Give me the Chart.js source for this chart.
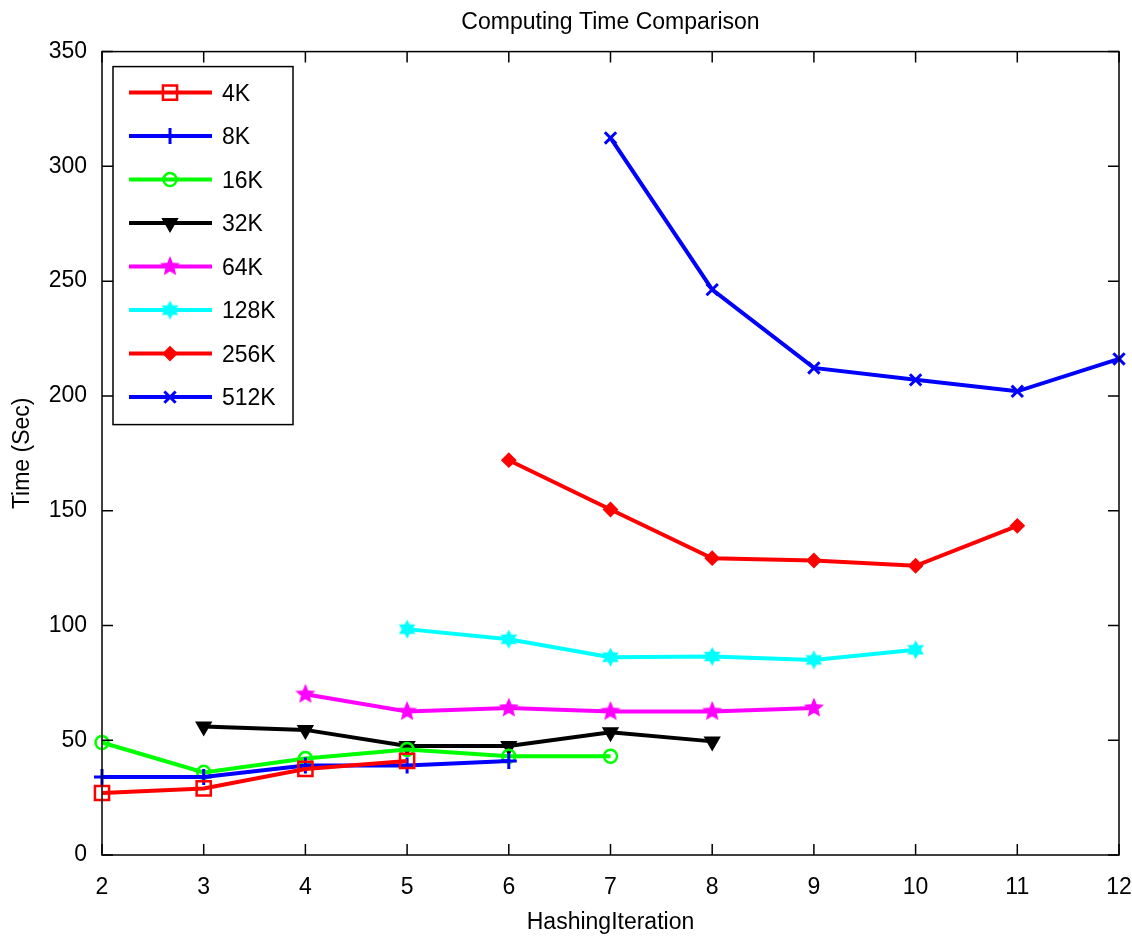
<!DOCTYPE html>
<html><head><meta charset="utf-8">
<script src="https://cdn.jsdelivr.net/npm/chart.js@4/dist/chart.umd.min.js"></script>
<style>html,body{margin:0;padding:0;background:#fff;}canvas{display:block;}</style>
</head><body>
<canvas id="c" width="1132" height="936"></canvas>
<script>
// ---- data ----
const iterations = ['2','3','4','5','6','7','8','9','10','11','12'];
const seriesNames = ['4K','8K','16K','32K','64K','128K','256K','512K'];
const t4K   = [27, 29, 37.5, 41, null, null, null, null, null, null, null];
const t8K   = [34, 34, 39, 39, 41, null, null, null, null, null, null];
const t16K  = [49, 36, 42, 46, 43, 43, null, null, null, null, null];
const t32K  = [null, 56, 54.5, 47.5, 47.5, 53.5, 49.5, null, null, null, null];
const t64K  = [null, null, 70, 62.5, 64, 62.5, 62.5, 64, null, null, null];
const t128K = [null, null, null, 98.4, 94, 86.2, 86.5, 85, 89.4, null, null];
const t256K = [null, null, null, null, 172, 150.5, 129.3, 128.3, 126, 143.4, null];
const t512K = [null, null, null, null, null, 312.4, 246.3, 212.2, 207, 202, 216.1];
const yTicks = [0, 50, 100, 150, 200, 250, 300, 350];

const FONT = 'Liberation Sans, Arial, sans-serif';
const FSIZE = 23;

function starImg(n, color, R, r, fill) {
  const s = Math.ceil(2 * R + 6);
  const c = document.createElement('canvas');
  c.width = s; c.height = s;
  const g = c.getContext('2d');
  g.beginPath();
  for (let k = 0; k < 2 * n; k++) {
    const a = -Math.PI / 2 + k * Math.PI / n;
    const rr = k % 2 === 0 ? R : r;
    const px = s / 2 + rr * Math.cos(a), py = s / 2 + rr * Math.sin(a);
    if (k === 0) g.moveTo(px, py); else g.lineTo(px, py);
  }
  g.closePath();
  g.lineWidth = 2; g.strokeStyle = color; g.lineJoin = 'miter';
  if (fill) { g.fillStyle = color; g.fill(); }
  g.stroke();
  return c;
}
const pentagram = starImg(5, '#ff00ff', 8, 3.6, true);
const hexagram = starImg(6, '#00ffff', 7.5, 4.2, true);

const seriesData = [t4K, t8K, t16K, t32K, t64K, t128K, t256K, t512K];
const colors = ['#ff0000', '#0000ff', '#00ff00', '#000000', '#ff00ff', '#00ffff', '#ff0000', '#0000ff'];
const markers = [
  {pointStyle: 'rect', radius: 10, bg: 'rgba(0,0,0,0)', bw: 2.5, rot: 0},
  {pointStyle: 'cross', radius: 8, bg: 'rgba(0,0,0,0)', bw: 3, rot: 0},
  {pointStyle: 'circle', radius: 6.5, bg: 'rgba(0,0,0,0)', bw: 2.5, rot: 0},
  {pointStyle: 'triangle', radius: 8, bg: '#000000', bw: 2, rot: 180},
  {pointStyle: pentagram, radius: 8, bg: '#ff00ff', bw: 2, rot: 0},
  {pointStyle: hexagram, radius: 8, bg: '#00ffff', bw: 2, rot: 0},
  {pointStyle: 'rectRot', radius: 6.5, bg: '#ff0000', bw: 2, rot: 0},
  {pointStyle: 'crossRot', radius: 8, bg: 'rgba(0,0,0,0)', bw: 3, rot: 0}
];

const datasets = seriesNames.map((name, i) => ({
  label: name,
  data: seriesData[i],
  borderColor: colors[i],
  backgroundColor: markers[i].bg,
  borderWidth: 4,
  pointStyle: markers[i].pointStyle,
  pointRadius: markers[i].radius,
  pointBorderWidth: markers[i].bw,
  pointBorderColor: colors[i],
  pointBackgroundColor: markers[i].bg,
  pointRotation: markers[i].rot,
  tension: 0,
  spanGaps: false,
  clip: false
}));

const framePlugin = {
  id: 'frame',
  afterDatasetsDraw(chart) {
    const ctx = chart.ctx, ca = chart.chartArea;
    const xs = chart.scales.x, ys = chart.scales.y;
    const tl = 11;
    ctx.save();
    ctx.strokeStyle = '#000';
    ctx.lineWidth = 1.5;
    ctx.strokeRect(ca.left, ca.top, ca.right - ca.left, ca.bottom - ca.top);
    ctx.beginPath();
    iterations.forEach((lab, i) => {
      const px = xs.getPixelForValue(i);
      ctx.moveTo(px, ca.bottom); ctx.lineTo(px, ca.bottom - tl);
      ctx.moveTo(px, ca.top); ctx.lineTo(px, ca.top + tl);
    });
    yTicks.forEach(v => {
      const py = ys.getPixelForValue(v);
      ctx.moveTo(ca.left, py); ctx.lineTo(ca.left + tl, py);
      ctx.moveTo(ca.right, py); ctx.lineTo(ca.right - tl, py);
    });
    ctx.stroke();
    ctx.restore();
  }
};

const legendPlugin = {
  id: 'boxLegend',
  afterDatasetsDraw(chart) {
    const ctx = chart.ctx, ca = chart.chartArea;
    const x0 = ca.left + 11, y0 = ca.top + 15, w = 180, h = 358;
    ctx.save();
    ctx.fillStyle = '#fff';
    ctx.fillRect(x0, y0, w, h);
    ctx.strokeStyle = '#000';
    ctx.lineWidth = 1.5;
    ctx.strokeRect(x0, y0, w, h);
    chart.data.datasets.forEach((ds, i) => {
      const y = y0 + 26 + i * 43.5;
      ctx.strokeStyle = ds.borderColor;
      ctx.lineWidth = ds.borderWidth;
      ctx.beginPath();
      ctx.moveTo(x0 + 16, y); ctx.lineTo(x0 + 99, y);
      ctx.stroke();
      const opts = {
        pointStyle: ds.pointStyle, radius: ds.pointRadius, rotation: ds.pointRotation,
        borderWidth: ds.pointBorderWidth
      };
      ctx.strokeStyle = ds.pointBorderColor;
      ctx.fillStyle = ds.pointBackgroundColor;
      ctx.lineWidth = ds.pointBorderWidth;
      if (Chart.helpers && Chart.helpers.drawPoint) {
        Chart.helpers.drawPoint(ctx, opts, x0 + 57, y);
      }
      ctx.fillStyle = '#000';
      ctx.font = FSIZE + 'px ' + FONT;
      ctx.textBaseline = 'middle';
      ctx.textAlign = 'left';
      ctx.fillText(ds.label, x0 + 109, y + 2);
    });
    ctx.restore();
  }
};

new Chart(document.getElementById('c'), {
  type: 'line',
  data: {labels: iterations, datasets: datasets},
  options: {
    responsive: false,
    animation: false,
    devicePixelRatio: 1,
    layout: {padding: {top: 0, right: 13, bottom: 0, left: 0}},
    plugins: {
      legend: {display: false},
      tooltip: {enabled: false},
      title: {
        display: true, fullSize: false, text: 'Computing Time Comparison', color: '#000',
        font: {family: FONT, size: FSIZE, weight: 'normal'},
        padding: {top: 9, bottom: 15}
      }
    },
    scales: {
      x: {
        type: 'category', offset: false,
        grid: {display: false, drawTicks: false},
        border: {display: false},
        ticks: {color: '#000', font: {family: FONT, size: FSIZE}, padding: 19, maxRotation: 0, autoSkip: false},
        title: {display: true, text: 'HashingIteration', color: '#000', font: {family: FONT, size: FSIZE}, padding: {top: 0, bottom: 0}},
        afterFit(s) { s.height = 81; s.paddingLeft = 0; s.paddingRight = 0; }
      },
      y: {
        type: 'linear', min: 0, max: 350,
        grid: {display: false, drawTicks: false},
        border: {display: false},
        ticks: {stepSize: 50, color: '#000', font: {family: FONT, size: FSIZE}, padding: 15},
        title: {display: true, text: 'Time (Sec)', color: '#000', font: {family: FONT, size: FSIZE}, padding: {top: 9, bottom: 0}},
        afterFit(s) { s.width = 102; s.paddingTop = 0; s.paddingBottom = 0; }
      }
    }
  },
  plugins: [framePlugin, legendPlugin]
});
</script>
</body></html>
